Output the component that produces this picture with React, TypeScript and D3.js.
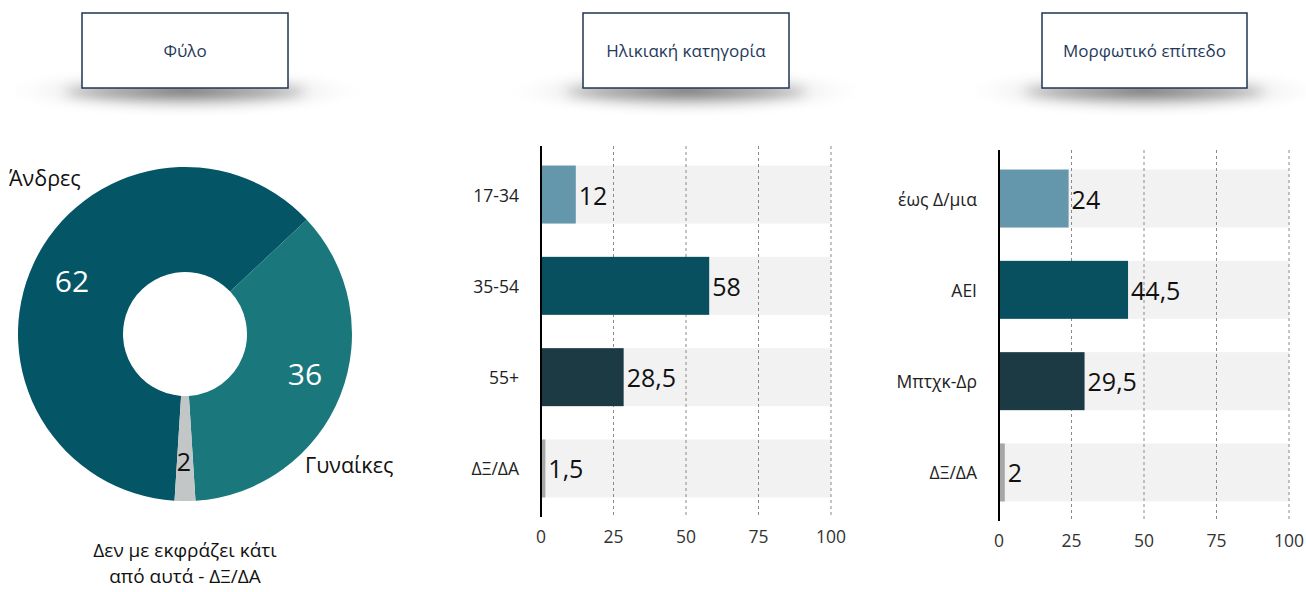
import * as d3 from "d3";

const panelTitles = ["Φύλο", "Ηλικιακή κατηγορία", "Μορφωτικό επίπεδο"];

const genderLabels = ["Άνδρες", "Γυναίκες", "ΔΞ/ΔΑ"];
const genderValues = [62, 36, 2];
const genderColors = ["#045667", "#1a777b", "#c3c6c6"];
const genderNote = ["Δεν με εκφράζει κάτι", "από αυτά - ΔΞ/ΔΑ"];

const ageLabels = ["17-34", "35-54", "55+", "ΔΞ/ΔΑ"];
const ageValues = [12, 58, 28.5, 1.5];

const eduLabels = ["έως Δ/μια", "ΑΕΙ", "Μπτχκ-Δρ", "ΔΞ/ΔΑ"];
const eduValues = [24, 44.5, 29.5, 2];

const barColors = ["#6497ab", "#08505f", "#1b3a44", "#a5a7a9"];
const xTicks = [0, 25, 50, 75, 100];

const FONT = "'Open Sans', 'Noto Sans', sans-serif";
const fmt = (v: number) => String(v).replace(".", ",");

type BarProps = {
  labels: string[];
  values: number[];
  left: number;
  top: number;
  bottom: number;
  labelX: number;
};

const BarPanel = ({ labels, values, left, top, bottom, labelX }: BarProps) => {
  const x = d3.scaleLinear().domain([0, 100]).range([left, left + 290]);
  const y = d3
    .scaleBand<string>()
    .domain(labels)
    .range([top, bottom])
    .paddingInner(0.365)
    .paddingOuter(0.214);
  const bw = y.bandwidth();
  return (
    <g>
      {labels.map((l) => (
        <rect key={"bg" + l} x={x(0)} y={y(l)} width={x(100) - x(0)} height={bw} fill="#f2f2f2" />
      ))}
      {xTicks.slice(1).map((t) => (
        <line
          key={"g" + t}
          x1={x(t)}
          x2={x(t)}
          y1={top}
          y2={bottom}
          stroke="#8a8a8a"
          strokeWidth={1}
          strokeDasharray="3,3"
        />
      ))}
      {labels.map((l, i) => (
        <rect key={"b" + l} x={x(0)} y={y(l)} width={x(values[i]) - x(0)} height={bw} fill={barColors[i]} />
      ))}
      <line x1={x(0)} x2={x(0)} y1={top} y2={bottom} stroke="#000" strokeWidth={2} />
      {labels.map((l, i) => (
        <text
          key={"v" + l}
          x={x(values[i]) + 3}
          y={(y(l) as number) + bw / 2}
          dominantBaseline="central"
          fontSize={25}
          fill="#111"
        >
          {fmt(values[i])}
        </text>
      ))}
      {labels.map((l) => (
        <text
          key={"c" + l}
          x={labelX}
          y={(y(l) as number) + bw / 2}
          dominantBaseline="central"
          textAnchor="end"
          fontSize={17.5}
          fill="#222"
        >
          {l}
        </text>
      ))}
      {xTicks.map((t) => (
        <text key={"t" + t} x={x(t)} y={bottom + 19} textAnchor="middle" dominantBaseline="central" fontSize={17.5} fill="#333">
          {t}
        </text>
      ))}
    </g>
  );
};

const TitleBox = ({ title, x0, x1 }: { title: string; x0: number; x1: number }) => {
  const cx = (x0 + x1) / 2;
  return (
    <g>
      <ellipse cx={cx} cy={91} rx={188} ry={28} fill="url(#shadowGrad)" />
      <ellipse cx={cx} cy={92} rx={120} ry={6} fill="#555" opacity={0.5} filter="url(#blur)" />
      <rect x={x0} y={13} width={x1 - x0} height={75} fill="#fff" stroke="#1f3552" strokeWidth={1.5} />
      <text x={cx} y={50.5} textAnchor="middle" dominantBaseline="central" fontSize={17} fill="#1f3a5c">
        {title}
      </text>
    </g>
  );
};

export default function App() {
  const cx = 185;
  const cy = 334;
  const pie = d3
    .pie<number>()
    .sort(null)
    .startAngle((-176.4 * Math.PI) / 180)
    .endAngle((183.6 * Math.PI) / 180);
  const arcs = pie(genderValues);
  const arc = d3.arc<d3.PieArcDatum<number>>().innerRadius(62).outerRadius(167);
  const labelArc = d3.arc<d3.PieArcDatum<number>>().innerRadius(130).outerRadius(130);

  return (
    <svg
      width={1306}
      height={592}
      style={{ position: "absolute", left: 0, top: 0, fontFamily: FONT, background: "#fff" }}
    >
      <defs>
        <radialGradient id="shadowGrad" cx="50%" cy="50%" r="50%">
          <stop offset="0%" stopColor="#999" stopOpacity={0.85} />
          <stop offset="50%" stopColor="#d0d0d0" stopOpacity={0.55} />
          <stop offset="100%" stopColor="#ffffff" stopOpacity={0} />
        </radialGradient>
        <filter id="blur" x="-50%" y="-200%" width="200%" height="500%">
          <feGaussianBlur stdDeviation="6" />
        </filter>
      </defs>

      <TitleBox title={panelTitles[0]} x0={82} x1={288} />
      <TitleBox title={panelTitles[1]} x0={583} x1={789} />
      <TitleBox title={panelTitles[2]} x0={1042} x1={1247} />

      <g transform={`translate(${cx},${cy})`}>
        {arcs.map((a, i) => (
          <path key={i} d={arc(a) as string} fill={genderColors[i]} />
        ))}
        {arcs.map((a, i) => {
          const [lx, ly] = labelArc.centroid(a);
          const pos =
            i === 0 ? [-113, -54] : i === 1 ? [120, 39] : [lx - 1, ly - 3];
          return (
            <text
              key={"l" + i}
              x={pos[0]}
              y={pos[1]}
              textAnchor="middle"
              dominantBaseline="central"
              fontSize={i === 2 ? 25 : 30}
              fill={i === 2 ? "#111" : "#fff"}
            >
              {genderValues[i]}
            </text>
          );
        })}
      </g>
      <text x={9} y={177} dominantBaseline="central" fontSize={21.5} fill="#111">
        {genderLabels[0]}
      </text>
      <text x={305} y={464} dominantBaseline="central" fontSize={21.5} fill="#111">
        {genderLabels[1]}
      </text>
      {genderNote.map((t, i) => (
        <text key={t} x={cx} y={550 + i * 26} textAnchor="middle" dominantBaseline="central" fontSize={19} fill="#111">
          {t}
        </text>
      ))}

      <BarPanel labels={ageLabels} values={ageValues} left={541} top={146} bottom={517} labelX={519} />
      <BarPanel labels={eduLabels} values={eduValues} left={999} top={150} bottom={521} labelX={977} />
    </svg>
  );
}
